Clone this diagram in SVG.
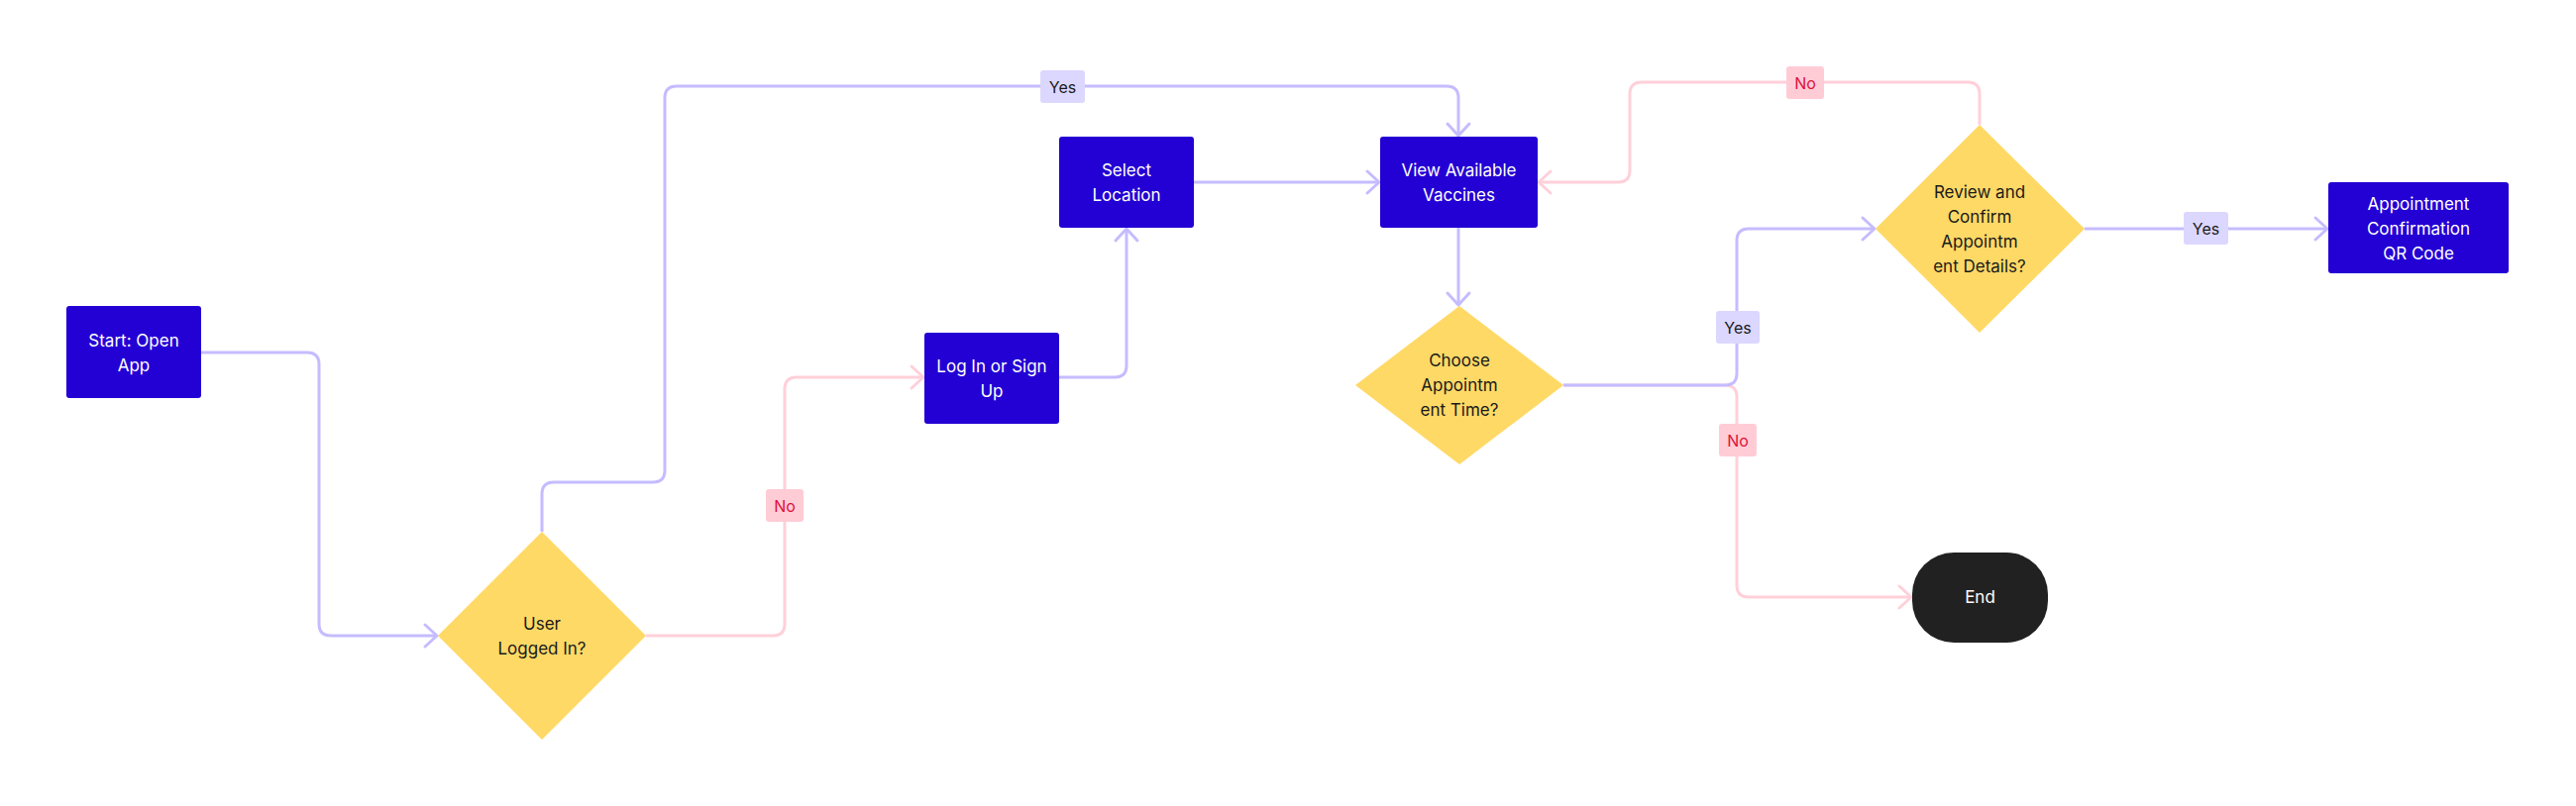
<svg xmlns="http://www.w3.org/2000/svg" width="2600" height="814" viewBox="0 0 2600 814">
<style>
.box{fill:#2300D4}
.dia{fill:#FFD966}
.end{fill:#212121}
.wt{fill:#FFFFFF;font-family:Inter,"Liberation Sans",sans-serif;font-size:17px;text-anchor:middle}
.bt{fill:#1A1A1A;font-family:Inter,"Liberation Sans",sans-serif;font-size:17px;text-anchor:middle}
.cp{fill:none;stroke:#C5BCFF;stroke-width:3}
.cr{fill:none;stroke:#FFD0D9;stroke-width:3}
.ly{fill:#DCD7FE}
.ln{fill:#FFCCD6}
.yt{fill:#1A1A1A;font-family:Inter,"Liberation Sans",sans-serif;font-size:16px;text-anchor:middle}
.nt{fill:#E0103A;font-family:Inter,"Liberation Sans",sans-serif;font-size:16px;text-anchor:middle}
</style>
<defs>
<marker id="ap" markerUnits="userSpaceOnUse" viewBox="-15 -14 18 28" markerWidth="18" markerHeight="28" refX="0" refY="0" orient="auto">
<path d="M-12,-11 L0,0 L-12,11" fill="none" stroke="#C5BCFF" stroke-width="3" stroke-linecap="round" stroke-linejoin="round"/>
</marker>
<marker id="ar" markerUnits="userSpaceOnUse" viewBox="-15 -14 18 28" markerWidth="18" markerHeight="28" refX="0" refY="0" orient="auto">
<path d="M-12,-11 L0,0 L-12,11" fill="none" stroke="#FFD0D9" stroke-width="3" stroke-linecap="round" stroke-linejoin="round"/>
</marker>
</defs>
<rect width="2600" height="814" fill="#FFFFFF"/>
<g id="connectors">
<path class="cr" marker-end="url(#ar)" d="M1578,389 H1741 Q1753,389 1753,401 V591 Q1753,603 1765,603 H1929"/>
<path class="cp" marker-end="url(#ap)" d="M203,356 H310 Q322,356 322,368 V630 Q322,642 334,642 H441"/>
<path class="cp" marker-end="url(#ap)" d="M547,537 V499 Q547,487 559,487 H659 Q671,487 671,475 V99 Q671,87 683,87 H1460 Q1472,87 1472,99 V137"/>
<path class="cr" marker-end="url(#ar)" d="M652,642 H780 Q792,642 792,630 V393 Q792,381 804,381 H932"/>
<path class="cp" marker-end="url(#ap)" d="M1069,381 H1125 Q1137,381 1137,369 V231"/>
<path class="cp" marker-end="url(#ap)" d="M1205,184 H1392"/>
<path class="cp" marker-end="url(#ap)" d="M1472,230 V308"/>
<path class="cp" marker-end="url(#ap)" d="M1578,389 H1741 Q1753,389 1753,377 V243 Q1753,231 1765,231 H1892"/>
<path class="cr" marker-end="url(#ar)" d="M1998,126 V95 Q1998,83 1986,83 H1657 Q1645,83 1645,95 V172 Q1645,184 1633,184 H1553"/>
<path class="cp" marker-end="url(#ap)" d="M2104,231 H2349"/>
<g id="lbl-yes1"><rect class="ly" x="1050" y="71" width="45" height="33" rx="3"/><text class="yt" x="1072.5" y="93.5">Yes</text></g>
<g id="lbl-no1"><rect class="ln" x="773" y="494" width="38" height="33" rx="3"/><text class="nt" x="792" y="516.5">No</text></g>
<g id="lbl-yes2"><rect class="ly" x="1732" y="314" width="44" height="33" rx="3"/><text class="yt" x="1754" y="336.5">Yes</text></g>
<g id="lbl-no2"><rect class="ln" x="1735" y="428" width="38" height="33" rx="3"/><text class="nt" x="1754" y="450.5">No</text></g>
<g id="lbl-no3"><rect class="ln" x="1803" y="67" width="38" height="33" rx="3"/><text class="nt" x="1822" y="89.5">No</text></g>
<g id="lbl-yes3"><rect class="ly" x="2204" y="214" width="45" height="33" rx="3"/><text class="yt" x="2226.5" y="236.5">Yes</text></g>
</g>
<g id="start"><rect class="box" x="67" y="309" width="136" height="93" rx="3"/><text class="wt" x="135" y="349.5">Start: Open</text><text class="wt" x="135" y="374.5">App</text></g>
<g id="logged"><polygon class="dia" points="547,537 652,642 547,747 442,642"/><text class="bt" x="547" y="636">User</text><text class="bt" x="547" y="661">Logged In?</text></g>
<g id="login"><rect class="box" x="933" y="336" width="136" height="92" rx="3"/><text class="wt" x="1001" y="375.5">Log In or Sign</text><text class="wt" x="1001" y="400.5">Up</text></g>
<g id="select"><rect class="box" x="1069" y="138" width="136" height="92" rx="3"/><text class="wt" x="1137" y="177.5">Select</text><text class="wt" x="1137" y="202.5">Location</text></g>
<g id="view"><rect class="box" x="1393" y="138" width="159" height="92" rx="3"/><text class="wt" x="1472.5" y="177.5">View Available</text><text class="wt" x="1472.5" y="202.5">Vaccines</text></g>
<g id="choose"><polygon class="dia" points="1473,309 1578,389 1473,469 1368,389"/><text class="bt" x="1473" y="370">Choose</text><text class="bt" x="1473" y="395">Appointm</text><text class="bt" x="1473" y="420">ent Time?</text></g>
<g id="review"><polygon class="dia" points="1998,126 2104,231 1998,336 1893,231"/><text class="bt" x="1998" y="199.5">Review and</text><text class="bt" x="1998" y="224.5">Confirm</text><text class="bt" x="1998" y="249.5">Appointm</text><text class="bt" x="1998" y="274.5">ent Details?</text></g>
<g id="confirm"><rect class="box" x="2350" y="184" width="182" height="92" rx="3"/><text class="wt" x="2441" y="212">Appointment</text><text class="wt" x="2441" y="237">Confirmation</text><text class="wt" x="2441" y="262">QR Code</text></g>
<g id="end"><rect class="end" x="1930" y="558" width="137" height="91" rx="42"/><text class="wt" x="1998.5" y="609">End</text></g>
</svg>
